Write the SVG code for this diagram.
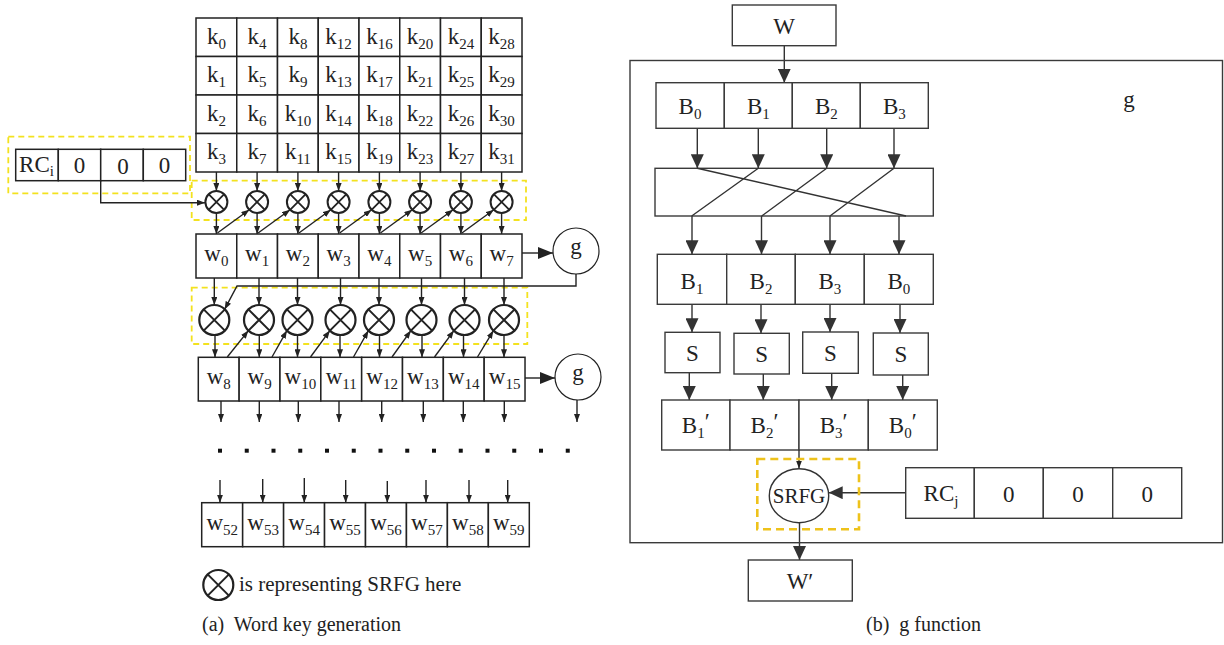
<svg xmlns="http://www.w3.org/2000/svg" xmlns:xlink="http://www.w3.org/1999/xlink" width="1224" height="645" viewBox="0 0 1224 645">
<style>
.bx{fill:#fff;stroke:#222;stroke-width:1.5}
.rb{fill:#fff;stroke:#3a3a3a;stroke-width:1.4}
.ln{fill:none;stroke:#222;stroke-width:1.4}
.rl{fill:none;stroke:#333;stroke-width:1.4}
.t{font-family:"Liberation Serif",serif;font-size:23px;fill:#222;text-anchor:middle}
.s{font-size:15px}
.yd{fill:none;stroke:#f3e21f;stroke-width:1.8;stroke-dasharray:6 4}
.yo{fill:none;stroke:#eec21b;stroke-width:2.6;stroke-dasharray:8 5}
.cap{font-family:"Liberation Serif",serif;font-size:20px;fill:#222}
.dot{fill:#111}
</style>
<defs>
<marker id="as" viewBox="0 0 8 6" refX="8" refY="3" markerWidth="8" markerHeight="6" markerUnits="userSpaceOnUse" orient="auto"><path d="M0,0L8,3L0,6z" fill="#222"/></marker>
<marker id="ab" viewBox="0 0 15 12" refX="15" refY="6" markerWidth="15" markerHeight="12" markerUnits="userSpaceOnUse" orient="auto"><path d="M0,0L15,6L0,12z" fill="#222"/></marker>
<marker id="ar" viewBox="0 0 14 13" refX="14" refY="6.5" markerWidth="14" markerHeight="13" markerUnits="userSpaceOnUse" orient="auto"><path d="M0,0L14,6.5L0,13z" fill="#333"/></marker>
<g id="xs"><circle r="11" fill="#fff" stroke="#222" stroke-width="2"/><path d="M-7.8,-7.8L7.8,7.8M-7.8,7.8L7.8,-7.8" stroke="#222" stroke-width="1.8"/></g>
<g id="xl"><circle r="15" fill="#fff" stroke="#222" stroke-width="2.2"/><path d="M-10.6,-10.6L10.6,10.6M-10.6,10.6L10.6,-10.6" stroke="#222" stroke-width="2"/></g>
</defs>
<rect width="1224" height="645" fill="#fff"/>

<!-- yellow dashed groupings (left) -->
<rect class="yd" x="8.3" y="136.7" width="181.7" height="56.6"/>
<rect class="yd" x="191.7" y="180.7" width="334.3" height="39.3"/>
<rect class="yd" x="191.7" y="287.7" width="335.6" height="56.3"/>

<!-- k grid -->
<g id="k-grid">
<g id="k0"><rect class="bx" x="196" y="18" width="40.75" height="38.5"/><text class="t" x="216.4" y="43.5">k<tspan class="s" dy="5">0</tspan></text></g>
<g id="k4"><rect class="bx" x="236.75" y="18" width="40.75" height="38.5"/><text class="t" x="257.1" y="43.5">k<tspan class="s" dy="5">4</tspan></text></g>
<g id="k8"><rect class="bx" x="277.5" y="18" width="40.75" height="38.5"/><text class="t" x="297.9" y="43.5">k<tspan class="s" dy="5">8</tspan></text></g>
<g id="k12"><rect class="bx" x="318.25" y="18" width="40.75" height="38.5"/><text class="t" x="338.6" y="43.5">k<tspan class="s" dy="5">12</tspan></text></g>
<g id="k16"><rect class="bx" x="359" y="18" width="40.75" height="38.5"/><text class="t" x="379.4" y="43.5">k<tspan class="s" dy="5">16</tspan></text></g>
<g id="k20"><rect class="bx" x="399.75" y="18" width="40.75" height="38.5"/><text class="t" x="420.1" y="43.5">k<tspan class="s" dy="5">20</tspan></text></g>
<g id="k24"><rect class="bx" x="440.5" y="18" width="40.75" height="38.5"/><text class="t" x="460.9" y="43.5">k<tspan class="s" dy="5">24</tspan></text></g>
<g id="k28"><rect class="bx" x="481.25" y="18" width="40.75" height="38.5"/><text class="t" x="501.6" y="43.5">k<tspan class="s" dy="5">28</tspan></text></g>

<g id="k1"><rect class="bx" x="196" y="56.5" width="40.75" height="38.5"/><text class="t" x="216.4" y="82">k<tspan class="s" dy="5">1</tspan></text></g>
<g id="k5"><rect class="bx" x="236.75" y="56.5" width="40.75" height="38.5"/><text class="t" x="257.1" y="82">k<tspan class="s" dy="5">5</tspan></text></g>
<g id="k9"><rect class="bx" x="277.5" y="56.5" width="40.75" height="38.5"/><text class="t" x="297.9" y="82">k<tspan class="s" dy="5">9</tspan></text></g>
<g id="k13"><rect class="bx" x="318.25" y="56.5" width="40.75" height="38.5"/><text class="t" x="338.6" y="82">k<tspan class="s" dy="5">13</tspan></text></g>
<g id="k17"><rect class="bx" x="359" y="56.5" width="40.75" height="38.5"/><text class="t" x="379.4" y="82">k<tspan class="s" dy="5">17</tspan></text></g>
<g id="k21"><rect class="bx" x="399.75" y="56.5" width="40.75" height="38.5"/><text class="t" x="420.1" y="82">k<tspan class="s" dy="5">21</tspan></text></g>
<g id="k25"><rect class="bx" x="440.5" y="56.5" width="40.75" height="38.5"/><text class="t" x="460.9" y="82">k<tspan class="s" dy="5">25</tspan></text></g>
<g id="k29"><rect class="bx" x="481.25" y="56.5" width="40.75" height="38.5"/><text class="t" x="501.6" y="82">k<tspan class="s" dy="5">29</tspan></text></g>

<g id="k2"><rect class="bx" x="196" y="95" width="40.75" height="38.5"/><text class="t" x="216.4" y="120.5">k<tspan class="s" dy="5">2</tspan></text></g>
<g id="k6"><rect class="bx" x="236.75" y="95" width="40.75" height="38.5"/><text class="t" x="257.1" y="120.5">k<tspan class="s" dy="5">6</tspan></text></g>
<g id="k10"><rect class="bx" x="277.5" y="95" width="40.75" height="38.5"/><text class="t" x="297.9" y="120.5">k<tspan class="s" dy="5">10</tspan></text></g>
<g id="k14"><rect class="bx" x="318.25" y="95" width="40.75" height="38.5"/><text class="t" x="338.6" y="120.5">k<tspan class="s" dy="5">14</tspan></text></g>
<g id="k18"><rect class="bx" x="359" y="95" width="40.75" height="38.5"/><text class="t" x="379.4" y="120.5">k<tspan class="s" dy="5">18</tspan></text></g>
<g id="k22"><rect class="bx" x="399.75" y="95" width="40.75" height="38.5"/><text class="t" x="420.1" y="120.5">k<tspan class="s" dy="5">22</tspan></text></g>
<g id="k26"><rect class="bx" x="440.5" y="95" width="40.75" height="38.5"/><text class="t" x="460.9" y="120.5">k<tspan class="s" dy="5">26</tspan></text></g>
<g id="k30"><rect class="bx" x="481.25" y="95" width="40.75" height="38.5"/><text class="t" x="501.6" y="120.5">k<tspan class="s" dy="5">30</tspan></text></g>

<g id="k3"><rect class="bx" x="196" y="133.5" width="40.75" height="38.5"/><text class="t" x="216.4" y="159">k<tspan class="s" dy="5">3</tspan></text></g>
<g id="k7"><rect class="bx" x="236.75" y="133.5" width="40.75" height="38.5"/><text class="t" x="257.1" y="159">k<tspan class="s" dy="5">7</tspan></text></g>
<g id="k11"><rect class="bx" x="277.5" y="133.5" width="40.75" height="38.5"/><text class="t" x="297.9" y="159">k<tspan class="s" dy="5">11</tspan></text></g>
<g id="k15"><rect class="bx" x="318.25" y="133.5" width="40.75" height="38.5"/><text class="t" x="338.6" y="159">k<tspan class="s" dy="5">15</tspan></text></g>
<g id="k19"><rect class="bx" x="359" y="133.5" width="40.75" height="38.5"/><text class="t" x="379.4" y="159">k<tspan class="s" dy="5">19</tspan></text></g>
<g id="k23"><rect class="bx" x="399.75" y="133.5" width="40.75" height="38.5"/><text class="t" x="420.1" y="159">k<tspan class="s" dy="5">23</tspan></text></g>
<g id="k27"><rect class="bx" x="440.5" y="133.5" width="40.75" height="38.5"/><text class="t" x="460.9" y="159">k<tspan class="s" dy="5">27</tspan></text></g>
<g id="k31"><rect class="bx" x="481.25" y="133.5" width="40.75" height="38.5"/><text class="t" x="501.6" y="159">k<tspan class="s" dy="5">31</tspan></text></g>
</g>

<!-- RC_i register -->
<g id="rci">
<rect class="bx" x="15.7" y="149.3" width="42.6" height="31.4"/><text class="t" x="36.5" y="172">RC<tspan class="s" dy="4">i</tspan></text>
<rect class="bx" x="58.3" y="149.3" width="42.4" height="31.4"/><text class="t" x="79.5" y="172.5">0</text>
<rect class="bx" x="100.7" y="149.3" width="42.6" height="31.4"/><text class="t" x="123" y="173.5">0</text>
<rect class="bx" x="143.3" y="149.3" width="42.4" height="31.4"/><text class="t" x="164.5" y="172.5">0</text>
</g>

<!-- connectors -->
<g id="connectors">
<path class="ln" d="M100.7,180.7V202.7H205" marker-end="url(#as)"/>
<path class="ln" d="M216.4,172V191" marker-end="url(#as)"/>
<path class="ln" d="M257.1,172V191" marker-end="url(#as)"/>
<path class="ln" d="M297.9,172V191" marker-end="url(#as)"/>
<path class="ln" d="M338.6,172V191" marker-end="url(#as)"/>
<path class="ln" d="M379.4,172V191" marker-end="url(#as)"/>
<path class="ln" d="M420.1,172V191" marker-end="url(#as)"/>
<path class="ln" d="M460.9,172V191" marker-end="url(#as)"/>
<path class="ln" d="M501.6,172V191" marker-end="url(#as)"/>
<path class="ln" d="M216.4,213V234" marker-end="url(#as)"/>
<path class="ln" d="M257.1,213V234" marker-end="url(#as)"/>
<path class="ln" d="M297.9,213V234" marker-end="url(#as)"/>
<path class="ln" d="M338.6,213V234" marker-end="url(#as)"/>
<path class="ln" d="M379.4,213V234" marker-end="url(#as)"/>
<path class="ln" d="M420.1,213V234" marker-end="url(#as)"/>
<path class="ln" d="M460.9,213V234" marker-end="url(#as)"/>
<path class="ln" d="M501.6,213V234" marker-end="url(#as)"/>
<path class="ln" d="M217.4,233L249.3,209.8" marker-end="url(#as)"/>
<path class="ln" d="M258.1,233L290.1,209.8" marker-end="url(#as)"/>
<path class="ln" d="M298.9,233L330.8,209.8" marker-end="url(#as)"/>
<path class="ln" d="M339.6,233L371.6,209.8" marker-end="url(#as)"/>
<path class="ln" d="M380.4,233L412.3,209.8" marker-end="url(#as)"/>
<path class="ln" d="M421.1,233L453.1,209.8" marker-end="url(#as)"/>
<path class="ln" d="M461.9,233L493.8,209.8" marker-end="url(#as)"/>
<path class="ln" d="M522,253H553" marker-end="url(#ab)"/>
<path class="ln" d="M576,274V286H237L224.6,309.4" marker-end="url(#as)"/>
<path class="ln" d="M214.3,278V305" marker-end="url(#as)"/>
<path class="ln" d="M259,278V305" marker-end="url(#as)"/>
<path class="ln" d="M297.5,278V305" marker-end="url(#as)"/>
<path class="ln" d="M340.5,278V305" marker-end="url(#as)"/>
<path class="ln" d="M379,278V305" marker-end="url(#as)"/>
<path class="ln" d="M421.5,278V305" marker-end="url(#as)"/>
<path class="ln" d="M464.5,278V305" marker-end="url(#as)"/>
<path class="ln" d="M504,278V305" marker-end="url(#as)"/>
<path class="ln" d="M215,335V357.3" marker-end="url(#as)"/>
<path class="ln" d="M259.3,335V357.3" marker-end="url(#as)"/>
<path class="ln" d="M297.5,335V357.3" marker-end="url(#as)"/>
<path class="ln" d="M340,335V357.3" marker-end="url(#as)"/>
<path class="ln" d="M379.5,335V357.3" marker-end="url(#as)"/>
<path class="ln" d="M422,335V357.3" marker-end="url(#as)"/>
<path class="ln" d="M463.5,335V357.3" marker-end="url(#as)"/>
<path class="ln" d="M504,335V357.3" marker-end="url(#as)"/>
<path class="ln" d="M227.3,357L248.4,330.6" marker-end="url(#as)"/>
<path class="ln" d="M272,357L286.9,330.6" marker-end="url(#as)"/>
<path class="ln" d="M310.5,357L329.9,330.6" marker-end="url(#as)"/>
<path class="ln" d="M353.5,357L368.4,330.6" marker-end="url(#as)"/>
<path class="ln" d="M392,357L410.9,330.6" marker-end="url(#as)"/>
<path class="ln" d="M434.5,357L453.9,330.6" marker-end="url(#as)"/>
<path class="ln" d="M477.5,357L493.4,330.6" marker-end="url(#as)"/>
<path class="ln" d="M525,378H555" marker-end="url(#ab)"/>
<path class="ln" d="M221,401V422" marker-end="url(#as)"/>
<path class="ln" d="M259.3,401V422" marker-end="url(#as)"/>
<path class="ln" d="M298.3,401V422" marker-end="url(#as)"/>
<path class="ln" d="M339,401V422" marker-end="url(#as)"/>
<path class="ln" d="M381.7,401V422" marker-end="url(#as)"/>
<path class="ln" d="M423.3,401V422" marker-end="url(#as)"/>
<path class="ln" d="M463.3,401V422" marker-end="url(#as)"/>
<path class="ln" d="M504.3,401V422" marker-end="url(#as)"/>
<path class="ln" d="M577,400V422" marker-end="url(#as)"/>
<path class="ln" d="M220,480V502.7" marker-end="url(#as)"/>
<path class="ln" d="M262.7,479V502.7" marker-end="url(#as)"/>
<path class="ln" d="M304.3,478V502.7" marker-end="url(#as)"/>
<path class="ln" d="M345.7,480V502.7" marker-end="url(#as)"/>
<path class="ln" d="M387.3,481V502.7" marker-end="url(#as)"/>
<path class="ln" d="M426,480V502.7" marker-end="url(#as)"/>
<path class="ln" d="M469,480V502.7" marker-end="url(#as)"/>
<path class="ln" d="M507.7,480V502.7" marker-end="url(#as)"/>

<path class="rl" d="M784.3,45.7V82.7" marker-end="url(#ar)"/>
<path class="rl" d="M697.3,128.3V168.3" marker-end="url(#ar)"/>
<path class="rl" d="M758.3,128.3V168.3" marker-end="url(#ar)"/>
<path class="rl" d="M826.7,128.3V168.3" marker-end="url(#ar)"/>
<path class="rl" d="M894,128.3V168.3" marker-end="url(#ar)"/>
<path class="rl" d="M692,216V254.3" marker-end="url(#ar)"/>
<path class="rl" d="M761.5,216V254.3" marker-end="url(#ar)"/>
<path class="rl" d="M830,216V254.3" marker-end="url(#ar)"/>
<path class="rl" d="M899,216V254.3" marker-end="url(#ar)"/>
<path class="rl" d="M692,304.3V332.3" marker-end="url(#ar)"/>
<path class="rl" d="M761,304.3V333.3" marker-end="url(#ar)"/>
<path class="rl" d="M830,304.3V332" marker-end="url(#ar)"/>
<path class="rl" d="M900,304.3V333" marker-end="url(#ar)"/>
<path class="rl" d="M689.3,372.7V400" marker-end="url(#ar)"/>
<path class="rl" d="M763.3,374V400" marker-end="url(#ar)"/>
<path class="rl" d="M831.7,373.3V400" marker-end="url(#ar)"/>
<path class="rl" d="M902.7,375V400" marker-end="url(#ar)"/>
<path class="rl" d="M799,450V468.5" marker-end="url(#as)"/>
<path class="rl" d="M905.7,492.7H828.7" marker-end="url(#ar)"/>
<path class="rl" d="M799.5,522.5V560" marker-end="url(#ar)"/>
</g>

<g id="xor1-0"><use href="#xs" x="216.4" y="202"/></g>
<g id="xor1-1"><use href="#xs" x="257.1" y="202"/></g>
<g id="xor1-2"><use href="#xs" x="297.9" y="202"/></g>
<g id="xor1-3"><use href="#xs" x="338.6" y="202"/></g>
<g id="xor1-4"><use href="#xs" x="379.4" y="202"/></g>
<g id="xor1-5"><use href="#xs" x="420.1" y="202"/></g>
<g id="xor1-6"><use href="#xs" x="460.9" y="202"/></g>
<g id="xor1-7"><use href="#xs" x="501.6" y="202"/></g>

<g id="w0-row">
<g id="w0"><rect class="bx" x="196" y="234" width="40.75" height="44"/><text class="t" x="216.4" y="261">w<tspan class="s" dy="5">0</tspan></text></g>
<g id="w1"><rect class="bx" x="236.75" y="234" width="40.75" height="44"/><text class="t" x="257.1" y="261">w<tspan class="s" dy="5">1</tspan></text></g>
<g id="w2"><rect class="bx" x="277.5" y="234" width="40.75" height="44"/><text class="t" x="297.9" y="261">w<tspan class="s" dy="5">2</tspan></text></g>
<g id="w3"><rect class="bx" x="318.25" y="234" width="40.75" height="44"/><text class="t" x="338.6" y="261">w<tspan class="s" dy="5">3</tspan></text></g>
<g id="w4"><rect class="bx" x="359" y="234" width="40.75" height="44"/><text class="t" x="379.4" y="261">w<tspan class="s" dy="5">4</tspan></text></g>
<g id="w5"><rect class="bx" x="399.75" y="234" width="40.75" height="44"/><text class="t" x="420.1" y="261">w<tspan class="s" dy="5">5</tspan></text></g>
<g id="w6"><rect class="bx" x="440.5" y="234" width="40.75" height="44"/><text class="t" x="460.9" y="261">w<tspan class="s" dy="5">6</tspan></text></g>
<g id="w7"><rect class="bx" x="481.25" y="234" width="40.75" height="44"/><text class="t" x="501.6" y="261">w<tspan class="s" dy="5">7</tspan></text></g>
</g>
<g id="g1"><circle cx="576" cy="251" r="23" fill="#fff" stroke="#222" stroke-width="1.2"/><text class="t" x="576" y="254">g</text></g>

<g id="xor2-0"><use href="#xl" x="214.3" y="320"/></g>
<g id="xor2-1"><use href="#xl" x="259" y="320"/></g>
<g id="xor2-2"><use href="#xl" x="297.5" y="320"/></g>
<g id="xor2-3"><use href="#xl" x="340.5" y="320"/></g>
<g id="xor2-4"><use href="#xl" x="379" y="320"/></g>
<g id="xor2-5"><use href="#xl" x="421.5" y="320"/></g>
<g id="xor2-6"><use href="#xl" x="464.5" y="320"/></g>
<g id="xor2-7"><use href="#xl" x="504" y="320"/></g>

<g id="w8-row">
<g id="w8"><rect class="bx" x="198.3" y="357.3" width="40.84" height="43.7"/><text class="t" x="218.7" y="384">w<tspan class="s" dy="5">8</tspan></text></g>
<g id="w9"><rect class="bx" x="239.14" y="357.3" width="40.84" height="43.7"/><text class="t" x="259.6" y="384">w<tspan class="s" dy="5">9</tspan></text></g>
<g id="w10"><rect class="bx" x="279.98" y="357.3" width="40.84" height="43.7"/><text class="t" x="300.4" y="384">w<tspan class="s" dy="5">10</tspan></text></g>
<g id="w11"><rect class="bx" x="320.82" y="357.3" width="40.84" height="43.7"/><text class="t" x="341.2" y="384">w<tspan class="s" dy="5">11</tspan></text></g>
<g id="w12"><rect class="bx" x="361.66" y="357.3" width="40.84" height="43.7"/><text class="t" x="382.1" y="384">w<tspan class="s" dy="5">12</tspan></text></g>
<g id="w13"><rect class="bx" x="402.5" y="357.3" width="40.84" height="43.7"/><text class="t" x="422.9" y="384">w<tspan class="s" dy="5">13</tspan></text></g>
<g id="w14"><rect class="bx" x="443.34" y="357.3" width="40.84" height="43.7"/><text class="t" x="463.8" y="384">w<tspan class="s" dy="5">14</tspan></text></g>
<g id="w15"><rect class="bx" x="484.18" y="357.3" width="40.84" height="43.7"/><text class="t" x="504.6" y="384">w<tspan class="s" dy="5">15</tspan></text></g>
</g>
<g id="g2"><circle cx="578" cy="377" r="23" fill="#fff" stroke="#222" stroke-width="1.2"/><text class="t" x="578" y="380">g</text></g>

<g id="dots">
<rect class="dot" x="218" y="448.7" width="4" height="4"/>
<rect class="dot" x="244.75" y="448.7" width="4" height="4"/>
<rect class="dot" x="271.5" y="448.7" width="4" height="4"/>
<rect class="dot" x="298.25" y="448.7" width="4" height="4"/>
<rect class="dot" x="325" y="448.7" width="4" height="4"/>
<rect class="dot" x="351.75" y="448.7" width="4" height="4"/>
<rect class="dot" x="378.5" y="448.7" width="4" height="4"/>
<rect class="dot" x="405.25" y="448.7" width="4" height="4"/>
<rect class="dot" x="432" y="448.7" width="4" height="4"/>
<rect class="dot" x="458.75" y="448.7" width="4" height="4"/>
<rect class="dot" x="485.5" y="448.7" width="4" height="4"/>
<rect class="dot" x="512.25" y="448.7" width="4" height="4"/>
<rect class="dot" x="539" y="448.7" width="4" height="4"/>
<rect class="dot" x="565.75" y="448.7" width="4" height="4"/>
</g>

<g id="w52-row">
<g id="w52"><rect class="bx" x="201.7" y="502.7" width="40.95" height="44"/><text class="t" x="222.2" y="530">w<tspan class="s" dy="5">52</tspan></text></g>
<g id="w53"><rect class="bx" x="242.65" y="502.7" width="40.95" height="44"/><text class="t" x="263.1" y="530">w<tspan class="s" dy="5">53</tspan></text></g>
<g id="w54"><rect class="bx" x="283.6" y="502.7" width="40.95" height="44"/><text class="t" x="304.1" y="530">w<tspan class="s" dy="5">54</tspan></text></g>
<g id="w55"><rect class="bx" x="324.55" y="502.7" width="40.95" height="44"/><text class="t" x="345" y="530">w<tspan class="s" dy="5">55</tspan></text></g>
<g id="w56"><rect class="bx" x="365.5" y="502.7" width="40.95" height="44"/><text class="t" x="386" y="530">w<tspan class="s" dy="5">56</tspan></text></g>
<g id="w57"><rect class="bx" x="406.45" y="502.7" width="40.95" height="44"/><text class="t" x="426.9" y="530">w<tspan class="s" dy="5">57</tspan></text></g>
<g id="w58"><rect class="bx" x="447.4" y="502.7" width="40.95" height="44"/><text class="t" x="467.9" y="530">w<tspan class="s" dy="5">58</tspan></text></g>
<g id="w59"><rect class="bx" x="488.35" y="502.7" width="40.95" height="44"/><text class="t" x="508.8" y="530">w<tspan class="s" dy="5">59</tspan></text></g>
</g>

<g id="legend">
<use href="#xl" x="218.3" y="585"/>
<text x="239" y="591" style="font-family:'Liberation Serif',serif;font-size:21px;fill:#222">is representing SRFG here</text>
</g>
<text class="cap" x="202" y="631">(a)&#160; Word key generation</text>

<g id="gfunc-frame"><rect x="630" y="60.5" width="592.5" height="482.2" fill="none" stroke="#3a3a3a" stroke-width="1.4"/><text class="t" x="1129" y="107">g</text></g>

<g id="W"><rect class="rb" x="732.3" y="5" width="103.7" height="40.7"/><text class="t" x="784" y="33.5">W</text></g>

<g id="b-row">
<rect class="rb" x="656" y="82.7" width="68.3" height="45.6"/><text class="t" x="690" y="113.5">B<tspan class="s" dy="5">0</tspan></text>
<rect class="rb" x="724.3" y="82.7" width="68" height="45.6"/><text class="t" x="758.3" y="113.5">B<tspan class="s" dy="5">1</tspan></text>
<rect class="rb" x="792.3" y="82.7" width="68" height="45.6"/><text class="t" x="826.3" y="113.5">B<tspan class="s" dy="5">2</tspan></text>
<rect class="rb" x="860.3" y="82.7" width="68" height="45.6"/><text class="t" x="894.3" y="113.5">B<tspan class="s" dy="5">3</tspan></text>
</g>

<g id="perm">
<rect class="rb" x="655" y="168.3" width="278.3" height="47.7"/>
<path class="rl" d="M697.3,168.3L906,216M758.3,168.3L691.7,216M826.7,168.3L761.7,216M894,168.3L830,216"/>
</g>

<g id="b-row2">
<rect class="rb" x="657.3" y="254.3" width="69.4" height="50"/><text class="t" x="692" y="288.5">B<tspan class="s" dy="5">1</tspan></text>
<rect class="rb" x="726.7" y="254.3" width="68.6" height="50"/><text class="t" x="761" y="288.5">B<tspan class="s" dy="5">2</tspan></text>
<rect class="rb" x="795.3" y="254.3" width="69" height="50"/><text class="t" x="829.8" y="288.5">B<tspan class="s" dy="5">3</tspan></text>
<rect class="rb" x="864.3" y="254.3" width="69" height="50"/><text class="t" x="898.8" y="288.5">B<tspan class="s" dy="5">0</tspan></text>
</g>

<g id="s1"><rect class="rb" x="665" y="332.3" width="55" height="40.4"/><text class="t" x="692.5" y="360.5">S</text></g>
<g id="s2"><rect class="rb" x="734" y="333.3" width="55.3" height="40.7"/><text class="t" x="761.6" y="361.5">S</text></g>
<g id="s3"><rect class="rb" x="802.7" y="332" width="55.6" height="41.3"/><text class="t" x="830.5" y="360.5">S</text></g>
<g id="s4"><rect class="rb" x="873.3" y="333" width="55" height="42"/><text class="t" x="900.8" y="361.5">S</text></g>

<g id="bp-row">
<rect class="rb" x="661.7" y="400" width="68.3" height="50"/><text class="t" x="695.8" y="432.5">B<tspan class="s" dy="5">1</tspan><tspan dy="-9">′</tspan></text>
<rect class="rb" x="730" y="400" width="69" height="50"/><text class="t" x="764.5" y="432.5">B<tspan class="s" dy="5">2</tspan><tspan dy="-9">′</tspan></text>
<rect class="rb" x="799" y="400" width="69.3" height="50"/><text class="t" x="833.6" y="432.5">B<tspan class="s" dy="5">3</tspan><tspan dy="-9">′</tspan></text>
<rect class="rb" x="868.3" y="400" width="69" height="50"/><text class="t" x="902.8" y="432.5">B<tspan class="s" dy="5">0</tspan><tspan dy="-9">′</tspan></text>
</g>

<rect class="yo" x="757.3" y="459" width="101.7" height="70.3"/>
<g id="srfg"><ellipse cx="799" cy="495.7" rx="29.7" ry="27" fill="#fff" stroke="#333" stroke-width="1.4"/><text class="t" x="799" y="503" style="font-size:21px">SRFG</text></g>

<g id="rcj">
<rect class="rb" x="905.7" y="467.7" width="68.6" height="50.6"/><text class="t" x="941" y="500.5">RC<tspan class="s" dy="5">j</tspan></text>
<rect class="rb" x="974.3" y="467.7" width="69" height="50.6"/><text class="t" x="1008.8" y="502">0</text>
<rect class="rb" x="1043.3" y="467.7" width="69.4" height="50.6"/><text class="t" x="1078" y="502">0</text>
<rect class="rb" x="1112.7" y="467.7" width="69" height="50.6"/><text class="t" x="1147.2" y="502">0</text>
</g>

<g id="Wp"><rect class="rb" x="748.3" y="560" width="104" height="41"/><text class="t" x="800" y="588.5">W′</text></g>

<text class="cap" x="866" y="631">(b)&#160; g function</text>
</svg>
